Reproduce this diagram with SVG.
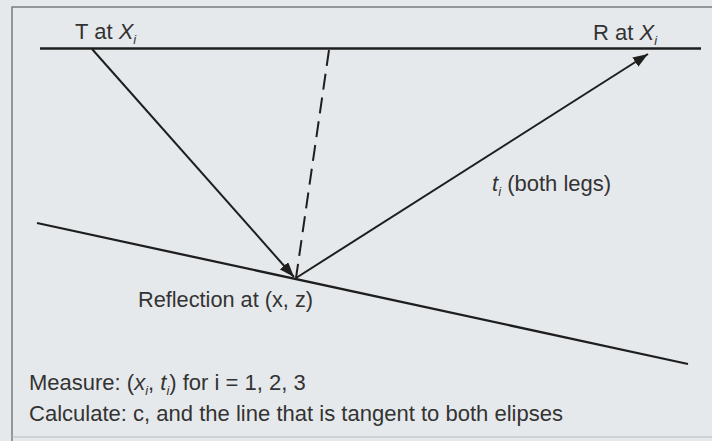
<svg xmlns="http://www.w3.org/2000/svg" width="712" height="441" viewBox="0 0 712 441">
  <defs>
    <marker id="arrow" viewBox="0 0 15 11" refX="15" refY="5.5" markerWidth="15" markerHeight="11" markerUnits="userSpaceOnUse" orient="auto">
      <path d="M0,0 L15,5.5 L0,11 z" fill="#1e1e1e"/>
    </marker>
  </defs>
  <style>
    .bg { fill: #e6e9eb; }
    .frame { stroke: #7a7c80; stroke-width: 1.5; fill: none; }
    .ln { stroke: #1e1e1e; stroke-width: 2.3; fill: none; }
    .ray { stroke: #1e1e1e; stroke-width: 2; fill: none; }
    .dash { stroke: #1e1e1e; stroke-width: 2; fill: none; stroke-dasharray: 16 8; }
    .t { font-family: "Liberation Sans", Arial, sans-serif; font-size: 22px; fill: #333; }
    .it { font-style: italic; }
    .sub { font-size: 13px; font-style: italic; }
  </style>
  <rect class="bg" x="0" y="0" width="712" height="441"/>
  <g id="frame">
    <polyline class="frame" points="12,441 12,7 712,7"/>
    <line x1="12" y1="437" x2="712" y2="437" stroke="#b8bbbf" stroke-width="1"/>
  </g>
  <g id="surface">
    <line class="ln" x1="40" y1="48.5" x2="701" y2="48.5"/>
  </g>
  <g id="reflector">
    <line class="ln" x1="37" y1="223" x2="688" y2="364"/>
  </g>
  <g id="connectors">
    <line class="ray" x1="92" y1="49" x2="294" y2="277" marker-end="url(#arrow)"/>
    <line class="ray" x1="296" y1="278" x2="648" y2="54" marker-end="url(#arrow)"/>
    <line class="dash" x1="329" y1="50" x2="296" y2="278"/>
  </g>
  <g id="label-T">
    <text class="t" x="75" y="39">T at <tspan class="it">X</tspan><tspan class="sub" dy="5">i</tspan></text>
  </g>
  <g id="label-R">
    <text class="t" x="593" y="40">R at <tspan class="it">X</tspan><tspan class="sub" dy="5">i</tspan></text>
  </g>
  <g id="label-t">
    <text class="t" x="492" y="191"><tspan class="it">t</tspan><tspan class="sub" dy="5">i</tspan><tspan dy="-5"> (both legs)</tspan></text>
  </g>
  <g id="label-reflection">
    <text class="t" x="138" y="307" textLength="175" lengthAdjust="spacingAndGlyphs">Reflection at (x, z)</text>
  </g>
  <g id="label-measure">
    <text class="t" x="29" y="390">Measure: (<tspan class="it">x</tspan><tspan class="sub" dy="5">i</tspan><tspan dy="-5">, </tspan><tspan class="it">t</tspan><tspan class="sub" dy="5">i</tspan><tspan dy="-5">) for i = 1, 2, 3</tspan></text>
  </g>
  <g id="label-calculate">
    <text class="t" x="29" y="421" textLength="534" lengthAdjust="spacingAndGlyphs">Calculate: c, and the line that is tangent to both elipses</text>
  </g>
</svg>
